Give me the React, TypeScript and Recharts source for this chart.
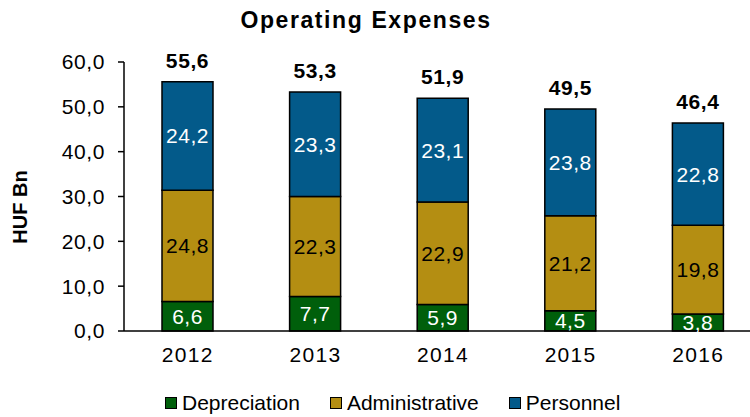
import { Bar, BarChart, LabelList, XAxis, YAxis } from 'recharts';

const YEARS = ['2012', '2013', '2014', '2015', '2016'];
const DEPRECIATION = [6.6, 7.7, 5.9, 4.5, 3.8];
const ADMINISTRATIVE = [24.8, 22.3, 22.9, 21.2, 19.8];
const PERSONNEL = [24.2, 23.3, 23.1, 23.8, 22.8];
const TOTALS = [55.6, 53.3, 51.9, 49.5, 46.4];
const Y_TICKS = [0, 10, 20, 30, 40, 50, 60];

const FONT = 'Arial, "Liberation Sans", sans-serif';

const SERIES = [
  { key: 'depreciation', label: 'Depreciation', color: '#005f0b', text: '#ffffff' },
  { key: 'administrative', label: 'Administrative', color: '#b48e12', text: '#000000' },
  { key: 'personnel', label: 'Personnel', color: '#035a8a', text: '#ffffff' },
];

const fmt = (v: number) => v.toFixed(1).replace('.', ',');

const data = YEARS.map((year, i) => ({
  year,
  depreciation: DEPRECIATION[i],
  administrative: ADMINISTRATIVE[i],
  personnel: PERSONNEL[i],
  total: TOTALS[i],
}));

export default function App() {
  return (
    <div
      style={{
        position: 'absolute',
        left: 0,
        top: 0,
        width: 750,
        height: 417,
        overflow: 'hidden',
        background: '#fff',
        fontFamily: FONT,
      }}
    >
      <div
        style={{
          position: 'absolute',
          left: 0,
          top: 9,
          width: 732,
          textAlign: 'center',
          fontSize: 23,
          lineHeight: '23px',
          fontWeight: 700,
          letterSpacing: 1.6,
          color: '#000',
        }}
      >
        Operating Expenses
      </div>

      <BarChart
        width={770}
        height={417}
        data={data}
        margin={{ top: 62, right: 8, bottom: 56, left: 0 }}
        barSize={51}
      >
        <XAxis
          dataKey="year"
          height={30}
          tickLine={false}
          tickSize={0}
          tickMargin={16}
          axisLine={{ stroke: '#000', strokeWidth: 1.5 }}
          tick={{ fill: '#000', fontSize: 21, fontFamily: FONT, letterSpacing: 1.3 }}
        />
        <YAxis
          width={124}
          domain={[0, 60]}
          ticks={Y_TICKS}
          interval={0}
          tickSize={6}
          tickMargin={13}
          tickFormatter={fmt}
          axisLine={{ stroke: '#000', strokeWidth: 1.5 }}
          tickLine={{ stroke: '#000', strokeWidth: 1.5 }}
          tick={{ fill: '#000', fontSize: 21, fontFamily: FONT, letterSpacing: 0.6 }}
          label={{
            content: () => (
              <text
                x={27}
                y={207}
                transform="rotate(-90, 27, 207)"
                textAnchor="middle"
                fontSize={20}
                fontWeight={700}
                fontFamily={FONT}
                fill="#000"
              >
                HUF Bn
              </text>
            ),
          }}
        />
        {SERIES.map((s) => (
          <Bar
            key={s.key}
            dataKey={s.key}
            stackId="a"
            fill={s.color}
            stroke="#000"
            strokeWidth={1.5}
            isAnimationActive={false}
          >
            <LabelList
              dataKey={s.key}
              position="center"
              formatter={(v: any) => fmt(Number(v))}
              fill={s.text}
              fontSize={21}
              fontFamily={FONT}
              letterSpacing={0.5}
            />
            {s.key === 'personnel' && (
              <LabelList
                dataKey="total"
                position="top"
                offset={14}
                formatter={(v: any) => fmt(Number(v))}
                fill="#000"
                fontSize={21}
                fontWeight={700}
                fontFamily={FONT}
                letterSpacing={0.6}
              />
            )}
          </Bar>
        ))}
      </BarChart>

      {/* legend, drawn as plain html under the axis */}
      <div
        style={{
          position: 'absolute',
          left: 165,
          top: 391,
          display: 'flex',
          alignItems: 'center',
          fontSize: 21,
          lineHeight: '24px',
          color: '#000',
        }}
      >
        {SERIES.map((s, i) => (
          <div
            key={s.key}
            style={{ display: 'flex', alignItems: 'center', marginLeft: i === 0 ? 0 : 30 }}
          >
            <span
              style={{
                display: 'inline-block',
                width: 10,
                height: 10,
                background: s.color,
                border: '1.5px solid #000',
                marginRight: 5,
              }}
            />
            <span>{s.label}</span>
          </div>
        ))}
      </div>
    </div>
  );
}
